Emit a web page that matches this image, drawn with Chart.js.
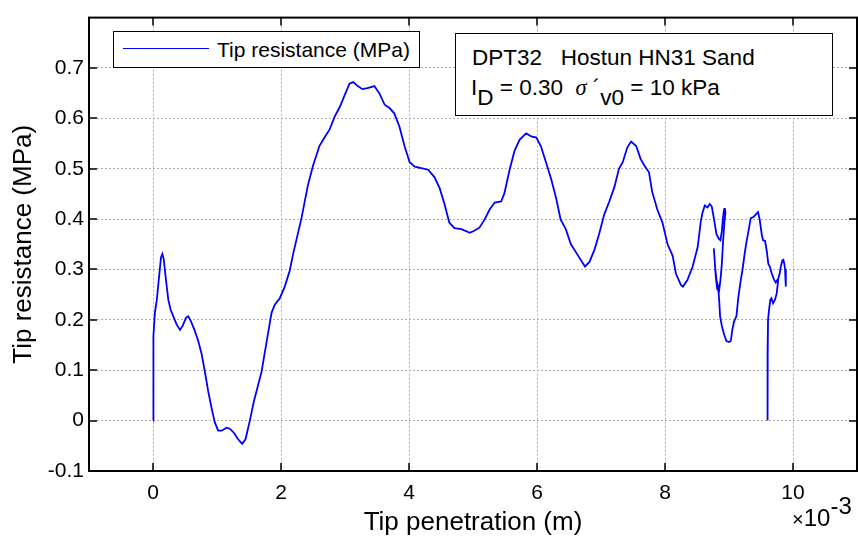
<!DOCTYPE html>
<html>
<head>
<meta charset="utf-8">
<script src="https://cdn.jsdelivr.net/npm/chart.js@4.4.0/dist/chart.umd.min.js"></script>
<style>
  body { margin: 0; background: #fff; }
  #wrap { position: relative; width: 858px; height: 540px; font-family: "Liberation Sans", Arial, sans-serif; color: #000; }
  .box { position: absolute; background: #fff; border: 1.5px solid #000; box-sizing: border-box; }
  .t { position: absolute; white-space: pre; line-height: 1; }
  .sub { position: relative; top: 10px; }
  .sig { font-family: "Liberation Serif", "DejaVu Serif", serif; font-style: italic; }
</style>
</head>
<body>
<div id="wrap">
  <canvas id="chart" width="858" height="540"></canvas>

  <!-- legend -->
  <div class="box" style="left:113px; top:31px; width:307px; height:37px;"></div>
  <div style="position:absolute; left:123px; top:48px; width:86px; height:0; border-top:1.5px solid #0000ff;"></div>
  <div class="t" style="left:217px; top:39px; font-size:21px;">Tip resistance (MPa)</div>

  <!-- annotation -->
  <div class="box" style="left:455px; top:33px; width:378px; height:83px;"></div>
  <div class="t" style="left:472px; top:47px; font-size:22.5px;">DPT32   Hostun HN31 Sand</div>
  <div class="t" style="left:471px; top:77px; font-size:22.5px;">I<span class="sub">D</span> = 0.30  <span class="sig">σ</span> ´<span class="sub">v0</span> = 10 kPa</div>

  <!-- x exponent -->
  <div class="t" style="left:792px; top:506px; font-size:24px;"><span style="font-size:20px;">×</span>10<span style="position:relative; top:-12px;">-3</span></div>
</div>

<script>
// tip penetration, x10^-3 m
const tipPenetration = [
  0, 0.003, 0.01, 0.03, 0.06, 0.094, 0.125, 0.146, 0.167, 0.203,
  0.239, 0.276, 0.317, 0.369, 0.421, 0.463, 0.515, 0.551, 0.593, 0.645,
  0.707, 0.76, 0.811, 0.863, 0.915, 0.967, 1.019, 1.071, 1.149, 1.2,
  1.263, 1.33, 1.393, 1.446, 1.513, 1.576, 1.643, 1.696, 1.748, 1.8,
  1.852, 1.903, 1.981, 2.059, 2.137, 2.19, 2.32, 2.42, 2.5, 2.6,
  2.68, 2.76, 2.84, 2.92, 2.995, 3.07, 3.13, 3.2, 3.27, 3.35,
  3.46, 3.54, 3.62, 3.7, 3.77, 3.85, 3.93, 4.01, 4.09, 4.19,
  4.3, 4.4, 4.48, 4.55, 4.63, 4.71, 4.82, 4.95, 5.02, 5.1,
  5.18, 5.26, 5.34, 5.44, 5.49, 5.57, 5.65, 5.73, 5.83, 5.91,
  5.99, 6.06, 6.14, 6.22, 6.3, 6.37, 6.45, 6.53, 6.61, 6.69,
  6.75, 6.82, 6.9, 6.97, 7.05, 7.13, 7.21, 7.28, 7.34, 7.41,
  7.47, 7.55, 7.62, 7.68, 7.75, 7.8, 7.88, 7.96, 8.04, 8.12,
  8.17, 8.25, 8.28, 8.35, 8.43, 8.51, 8.56, 8.585, 8.622, 8.663,
  8.7, 8.731, 8.767, 8.804, 8.846, 8.866, 8.888, 8.908, 8.924, 8.935,
  8.944, 8.93, 8.908, 8.888, 8.866, 8.846, 8.804, 8.783, 8.763, 8.794,
  8.814, 8.835, 8.846, 8.861, 8.888, 8.924, 8.96, 9.002, 9.028, 9.053,
  9.08, 9.116, 9.147, 9.184, 9.209, 9.251, 9.272, 9.314, 9.34, 9.381,
  9.418, 9.454, 9.48, 9.511, 9.532, 9.563, 9.59, 9.615, 9.641, 9.668,
  9.704, 9.73, 9.755, 9.771, 9.746, 9.719, 9.688, 9.662, 9.646, 9.626,
  9.61, 9.605, 9.6, 9.605, 9.61, 9.626, 9.646, 9.662, 9.688, 9.719,
  9.746, 9.771, 9.792, 9.808, 9.834, 9.849, 9.865, 9.875, 9.886, 9.89
];

// tip resistance, MPa
const tipResistance = [
  0, 0.025, 0.168, 0.214, 0.24, 0.285, 0.324, 0.331, 0.321, 0.279,
  0.24, 0.22, 0.207, 0.191, 0.18, 0.188, 0.204, 0.207, 0.197, 0.181,
  0.158, 0.132, 0.097, 0.058, 0.025, -0.004, -0.02, -0.02, -0.014, -0.016,
  -0.024, -0.037, -0.046, -0.037, 0, 0.038, 0.071, 0.097, 0.136, 0.175,
  0.214, 0.23, 0.243, 0.266, 0.298, 0.331, 0.402, 0.467, 0.506, 0.545,
  0.562, 0.578, 0.604, 0.623, 0.646, 0.669, 0.672, 0.664, 0.658, 0.66,
  0.664, 0.649, 0.627, 0.62, 0.61, 0.584, 0.545, 0.513, 0.504, 0.501,
  0.498, 0.483, 0.461, 0.432, 0.393, 0.382, 0.38, 0.373, 0.377, 0.383,
  0.399, 0.419, 0.433, 0.435, 0.451, 0.497, 0.536, 0.558, 0.57, 0.564,
  0.562, 0.545, 0.513, 0.48, 0.441, 0.399, 0.38, 0.35, 0.334, 0.318,
  0.306, 0.315, 0.34, 0.37, 0.409, 0.435, 0.464, 0.5, 0.513, 0.542,
  0.554, 0.545, 0.519, 0.506, 0.493, 0.454, 0.419, 0.393, 0.35, 0.327,
  0.292, 0.269, 0.266, 0.279, 0.305, 0.344, 0.396, 0.412, 0.427, 0.423,
  0.43, 0.425, 0.399, 0.37, 0.36, 0.358, 0.376, 0.405, 0.42, 0.422,
  0.412, 0.396, 0.357, 0.311, 0.279, 0.259, 0.279, 0.305, 0.342, 0.285,
  0.262, 0.258, 0.24, 0.207, 0.188, 0.171, 0.158, 0.156, 0.158, 0.181,
  0.197, 0.207, 0.246, 0.279, 0.298, 0.337, 0.354, 0.383, 0.402, 0.404,
  0.409, 0.414, 0.399, 0.37, 0.358, 0.357, 0.337, 0.311, 0.305, 0.292,
  0.28, 0.274, 0.279, 0.282, 0.253, 0.24, 0.233, 0.243, 0.24, 0.22,
  0.2, 0.136, 0, 0.136, 0.2, 0.22, 0.24, 0.243, 0.233, 0.24,
  0.253, 0.282, 0.292, 0.305, 0.318, 0.319, 0.311, 0.301, 0.292, 0.266
];

const xTicks = [0, 2, 4, 6, 8, 10];
const yTicks = [-0.1, 0, 0.1, 0.2, 0.3, 0.4, 0.5, 0.6, 0.7];

const FONT = '"Liberation Sans", Arial, sans-serif';
Chart.defaults.color = '#000';
Chart.defaults.font.family = FONT;

// MATLAB style box with inward tick marks on all four sides
const axesBox = {
  id: 'axesBox',
  afterDraw(chart) {
    const { ctx, chartArea: a, scales: { x, y } } = chart;
    const len = 8;
    ctx.save();
    ctx.strokeStyle = '#000';
    ctx.lineWidth = 1.5;
    ctx.beginPath();
    xTicks.forEach(v => {
      const px = Math.round(x.getPixelForValue(v));
      ctx.moveTo(px, a.bottom); ctx.lineTo(px, a.bottom - len);
      ctx.moveTo(px, a.top); ctx.lineTo(px, a.top + len);
    });
    yTicks.forEach(v => {
      const py = Math.round(y.getPixelForValue(v));
      ctx.moveTo(a.left, py); ctx.lineTo(a.left + len, py);
      ctx.moveTo(a.right, py); ctx.lineTo(a.right - len, py);
    });
    ctx.stroke();
    ctx.lineWidth = 2;
    ctx.strokeRect(a.left, a.top, a.right - a.left, a.bottom - a.top);
    ctx.restore();
  }
};

const points = tipPenetration.map((p, i) => ({ x: p, y: tipResistance[i] }));

new Chart(document.getElementById('chart'), {
  type: 'scatter',
  data: {
    datasets: [{
      label: 'Tip resistance (MPa)',
      data: points,
      showLine: true,
      borderColor: '#0000ff',
      borderWidth: 1.8,
      pointRadius: 0,
      tension: 0
    }]
  },
  options: {
    responsive: false,
    animation: false,
    layout: { padding: { top: 8, right: 1, left: 0, bottom: 0 } },
    plugins: {
      legend: { display: false },
      tooltip: { enabled: false }
    },
    scales: {
      x: {
        type: 'linear',
        min: -1,
        max: 11,
        afterBuildTicks: s => { s.ticks = xTicks.map(v => ({ value: v })); },
        afterFit: s => { s.height = 69; },
        ticks: { font: { size: 21 }, padding: 10, maxRotation: 0, callback: v => v.toString() },
        grid: { color: '#b0b0b0', lineWidth: 1, drawTicks: false },
        border: { display: false, dash: [2, 2] },
        title: { display: true, text: 'Tip penetration (m)', font: { size: 26 }, padding: { top: 0, bottom: 2 } }
      },
      y: {
        min: -0.1,
        max: 0.8,
        afterBuildTicks: s => { s.ticks = yTicks.map(v => ({ value: v })); },
        afterFit: s => { s.width = 89; },
        ticks: { font: { size: 21 }, padding: 5, callback: v => v.toString() },
        grid: { color: '#b0b0b0', lineWidth: 1, drawTicks: false },
        border: { display: false, dash: [2, 2] },
        title: { display: true, text: 'Tip resistance (MPa)', font: { size: 26 }, padding: { top: 8, bottom: 0 } }
      }
    }
  },
  plugins: [axesBox]
});
</script>
</body>
</html>
